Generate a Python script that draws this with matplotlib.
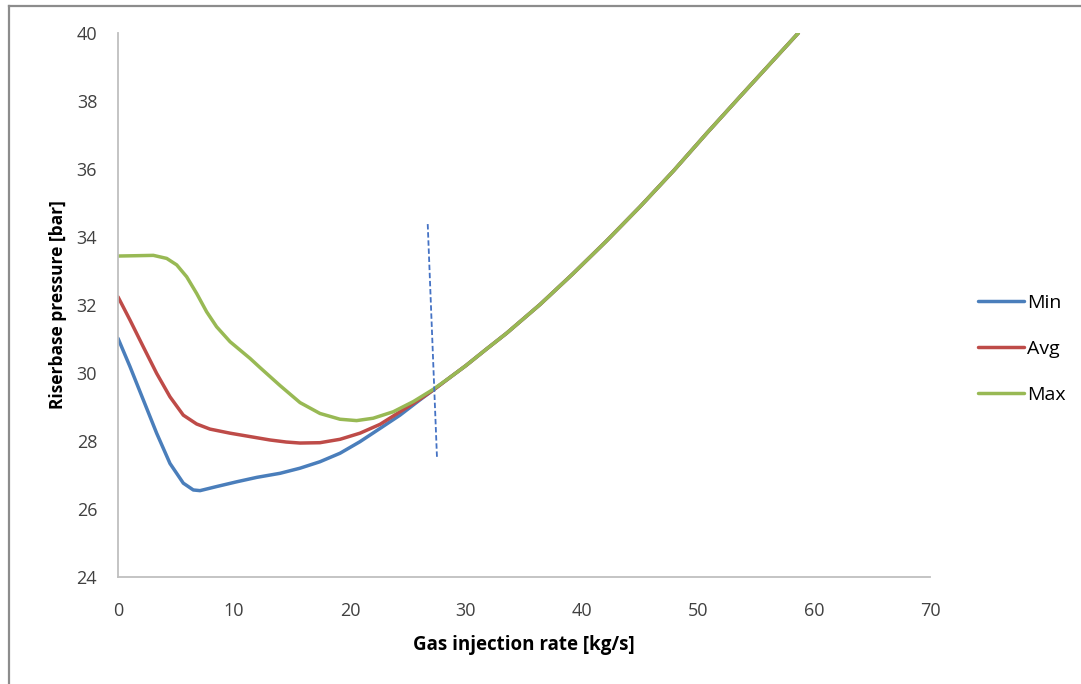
import matplotlib.pyplot as plt
from matplotlib.lines import Line2D

# Values
x_min = [0, 1.03, 2.18, 3.33, 4.48, 5.63, 6.49, 7.07, 8.5, 10.23, 11.96, 13.97,
         15.69, 17.41, 19.14, 20.86, 22.59, 24.31, 26.03, 27.18]
p_min = [31.02, 30.19, 29.21, 28.23, 27.34, 26.76, 26.56, 26.54, 26.66, 26.80, 26.93, 27.05,
         27.20, 27.39, 27.64, 27.98, 28.37, 28.76, 29.21, 29.50]

x_avg = [0, 1.03, 2.18, 3.33, 4.48, 5.63, 6.78, 7.93, 9.66, 11.38, 13.1, 14.5,
         15.69, 17.41, 19.14, 20.86, 22.59, 24.31, 26.03, 27.18]
p_avg = [32.24, 31.56, 30.77, 29.99, 29.30, 28.76, 28.50, 28.35, 28.23, 28.13, 28.03, 27.97,
         27.94, 27.95, 28.05, 28.23, 28.49, 28.86, 29.23, 29.50]

x_max = [0, 1.6, 3.05, 4.2, 5.06, 5.92, 6.78, 7.64, 8.5, 9.66, 11.38, 12.24, 13.97,
         15.69, 17.41, 19.14, 20.57, 22.0, 23.73, 25.46, 27.18]
p_max = [33.44, 33.45, 33.46, 33.37, 33.18, 32.83, 32.34, 31.80, 31.36, 30.92, 30.43, 30.16, 29.63,
         29.13, 28.81, 28.64, 28.60, 28.67, 28.86, 29.16, 29.52]

# common branch once the three curves merge
x_tail = [28.62, 30.0, 31.75, 33.5, 36.4, 39.25, 42.1, 45.0, 47.9, 50.75, 53.6, 56.5, 58.65]
p_tail = [29.87, 30.22, 30.70, 31.17, 32.02, 32.93, 33.88, 34.89, 35.95, 37.05, 38.12, 39.20, 40.0]

# dashed marker line
x_cut = [26.7, 27.5]
p_cut = [34.38, 27.5]

xticks = [0, 10, 20, 30, 40, 50, 60, 70]
yticks = [24, 26, 28, 30, 32, 34, 36, 38, 40]

plt.rcParams['font.family'] = ['Open Sans', 'DejaVu Sans']

fig = plt.figure(figsize=(10.81, 6.84), dpi=100)
ax = fig.add_axes([118 / 1081, 1 - 577 / 684, 812 / 1081, 544 / 684])

line_kw = dict(lw=2.5, solid_capstyle='round', solid_joinstyle='round')
ax.plot(x_min + x_tail, p_min + p_tail, color='#4A7EBB', label='Min', **line_kw)
ax.plot(x_avg + x_tail, p_avg + p_tail, color='#BE4B48', label='Avg', **line_kw)
ax.plot(x_max + x_tail, p_max + p_tail, color='#98B954', label='Max', **line_kw)
ax.plot(x_cut, p_cut, color='#4472C4', lw=1.3, ls=(0, (3, 1.5)))

ax.set_xlim(0, 70)
ax.set_ylim(24, 40)
ax.set_xticks(xticks)
ax.set_yticks(yticks)
ax.tick_params(length=0, labelsize=13, colors='#404040')
ax.tick_params(axis='x', pad=18)
ax.tick_params(axis='y', pad=15)

for side in ['top', 'right']:
    ax.spines[side].set_visible(False)
for side in ['left', 'bottom']:
    ax.spines[side].set_color('#BFBFBF')
    ax.spines[side].set_linewidth(1.3)

ax.set_xlabel('Gas injection rate [kg/s]', fontsize=13.5, fontweight='bold', labelpad=11)
ax.set_ylabel('Riserbase pressure [bar]', fontsize=12.5, fontweight='bold', labelpad=7)

ax.legend(loc='upper left', bbox_to_anchor=(1.049, 0.535), frameon=False,
          fontsize=14, handlelength=2.4, handletextpad=0.15, labelspacing=1.45,
          borderaxespad=0)

# grey frame on left and top of the picture
fig.add_artist(Line2D([9 / 1081, 9 / 1081], [0, 1 - 6 / 684], transform=fig.transFigure,
                      color='#8C8C8C', lw=1.6))
fig.add_artist(Line2D([9 / 1081, 1], [1 - 6 / 684, 1 - 6 / 684], transform=fig.transFigure,
                      color='#8C8C8C', lw=1.6))

fig.savefig('out.png', dpi=100)
